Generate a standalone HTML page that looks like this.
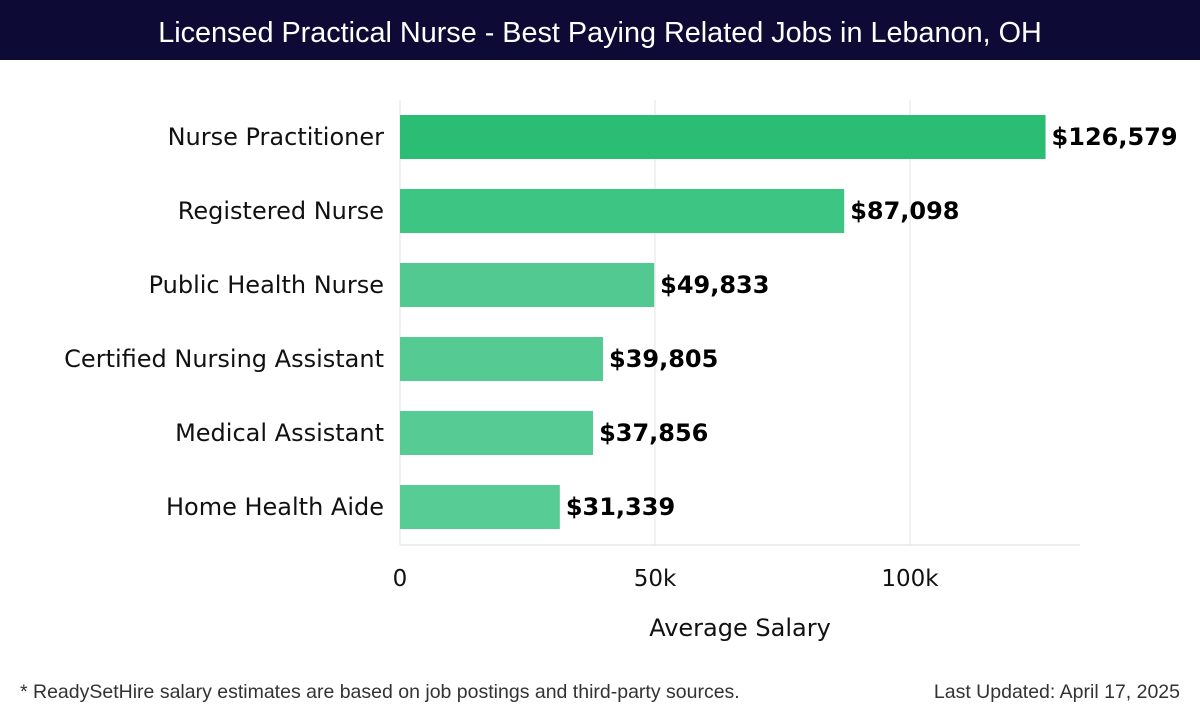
<!DOCTYPE html>
<html><head><meta charset="utf-8"><style>
body{margin:0;width:1200px;height:720px;background:#fff;overflow:hidden;font-family:"DejaVu Sans","Liberation Sans",sans-serif}
#title{position:absolute;left:0;top:0;width:1200px;height:60px;background:#0d0b36;color:#fff;font:300 28.8px "Liberation Sans",sans-serif;text-align:center;line-height:66px}
.foot{position:absolute;top:681px;font:19.5px "Liberation Sans",sans-serif;color:#333}
</style></head><body>
<div id="title">Licensed Practical Nurse - Best Paying Related Jobs in Lebanon, OH</div>
<svg id="chart" width="1200" height="720" style="position:absolute;left:0;top:0"></svg>
<div class="foot" style="left:20px">* ReadySetHire salary estimates are based on job postings and third-party sources.</div>
<div class="foot" style="right:20px">Last Updated: April 17, 2025</div>
<script>
const categories=["Nurse Practitioner","Registered Nurse","Public Health Nurse","Certified Nursing Assistant","Medical Assistant","Home Health Aide"];
const values=[126579,87098,49833,39805,37856,31339];
const valueLabels=["$126,579","$87,098","$49,833","$39,805","$37,856","$31,339"];
const tickValues=[0,50000,100000];
const tickLabels=["0","50k","100k"];
const colors=["#2bbd74","#3cc583","#52c990","#55ca92","#56cb94","#57cc95"];
const svg=document.getElementById('chart');const NS='http://www.w3.org/2000/svg';
const x=v=>400+v*255/50000;
const y=i=>115+i*74;
function mk(t,a,txt){const e=document.createElementNS(NS,t);for(const k in a)e.setAttribute(k,a[k]);if(txt!=null)e.textContent=txt;svg.appendChild(e);return e;}
tickValues.forEach((t,i)=>{
 const g=mk('line',{x1:x(t),x2:x(t),y1:100,y2:545,stroke:'#e3e3e3','stroke-width':1});
 
 
 const l=mk('text',{x:x(t),y:586,'text-anchor':'middle','font-size':23,fill:'#111'},tickLabels[i]);
 
 
});
const ax=mk('line',{x1:400,x2:1080,y1:545,y2:545,stroke:'#ddd','stroke-width':1});


categories.forEach((c,i)=>{
 const b=mk('rect',{x:x(0),y:y(i),width:x(values[i])-x(0),height:44,fill:colors[i]});
 
 
 const l=mk('text',{x:384,y:y(i)+30,'text-anchor':'end','font-size':24,fill:'#111'},c);
 
 
 const v=mk('text',{x:x(values[i])+6,y:y(i)+30,'font-size':24,'font-weight':'bold',fill:'#000'},valueLabels[i]);
 
 
});
const at=mk('text',{x:740,y:636,'text-anchor':'middle','font-size':24,fill:'#111'},'Average Salary');


</script>
</body></html>
